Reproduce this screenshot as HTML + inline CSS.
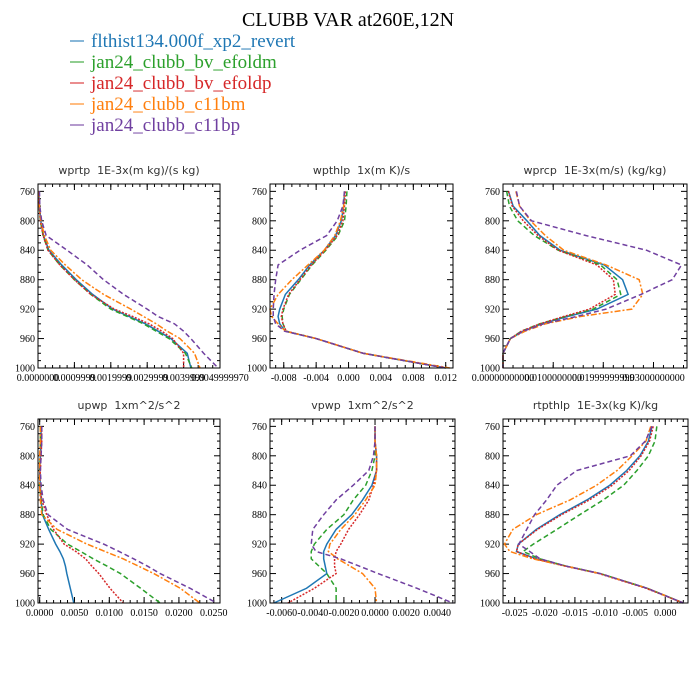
<!DOCTYPE html>
<html><head><meta charset="utf-8"><style>
html,body{margin:0;padding:0;background:#fff;}
svg{display:block;}
.st{font-family:"DejaVu Sans","Liberation Sans",sans-serif;font-size:11px;fill:#333;}
.tk{font-family:"Liberation Serif",serif;font-size:10px;fill:#000;}
.lg{font-family:"Liberation Serif",serif;font-size:19px;}
</style></head><body>
<svg id="chart" width="700" height="700" viewBox="0 0 700 700" xmlns="http://www.w3.org/2000/svg">
<text x="348" y="26" text-anchor="middle" font-family="Liberation Serif, serif" font-size="20">CLUBB VAR at260E,12N</text>
<g id="legend"></g>
<g id="panels"></g>
</svg>
<script>
const seriesNames = ["flthist134.000f_xp2_revert","jan24_clubb_bv_efoldm","jan24_clubb_bv_efoldp","jan24_clubb_c11bm","jan24_clubb_c11bp"];
const levels = [760,780,800,820,840,860,880,900,920,930,940,950,960,980,1000];

// wprtp (fraction of axis span)
const wprtpBlue   = [.005,.008,.015,.03,.06,.13,.21,.3,.41,.5,.59,.66,.73,.82,.84];
const wprtpGreen  = [.005,.007,.013,.028,.055,.12,.2,.29,.4,.49,.58,.65,.72,.81,.845];
const wprtpRed    = [.005,.007,.013,.028,.055,.12,.2,.29,.42,.52,.61,.68,.74,.8,.8];
const wprtpOrange = [.005,.008,.016,.035,.07,.15,.24,.36,.51,.58,.65,.71,.78,.86,.89];
const wprtpPurple = [.008,.01,.02,.045,.16,.27,.36,.47,.6,.66,.75,.8,.84,.91,.99];

// wpthlp
const wpthlpBlue   = [-.0005,-.0006,-.0009,-.0016,-.003,-.0048,-.0062,-.0078,-.0085,-.0087,-.0085,-.0078,-.004,.0018,.012];
const wpthlpGreen  = [-.0002,-.0003,-.0005,-.0013,-.0028,-.0045,-.0059,-.0073,-.008,-.0082,-.0081,-.0077,-.004,.0018,.012];
const wpthlpRed    = [-.0004,-.0005,-.0007,-.0014,-.0029,-.0046,-.006,-.0074,-.0081,-.0083,-.0081,-.0077,-.004,.0018,.012];
const wpthlpOrange = [-.0005,-.0006,-.001,-.0017,-.003,-.005,-.007,-.0087,-.0097,-.0095,-.0087,-.0078,-.004,.0018,.0125];
const wpthlpPurple = [-.0005,-.0007,-.0014,-.0027,-.006,-.0087,-.009,-.0092,-.0093,-.0093,-.009,-.0079,-.004,.0018,.012];

// wprcp (fraction of axis span)
const wprcpBlue   = [.03,.055,.13,.2,.31,.55,.65,.68,.51,.35,.21,.11,.04,0,0];
const wprcpGreen  = [.02,.035,.08,.17,.3,.53,.62,.64,.49,.34,.2,.1,.04,0,0];
const wprcpRed    = [.03,.05,.11,.19,.3,.51,.6,.61,.47,.33,.2,.1,.04,0,0];
const wprcpOrange = [.07,.09,.15,.23,.33,.56,.74,.76,.7,.42,.23,.12,.04,0,0];
const wprcpPurple = [.073,.09,.155,.45,.78,.97,.92,.75,.56,.4,.22,.11,.04,0,0];

// upwp
const upwpBlue   = [.0002,.0002,.0001,0,.0001,.0002,.0004,.0013,.0023,.0029,.0034,.0037,.0039,.0044,.0049];
const upwpGreen  = [.0001,.0001,.0001,0,0,.0002,.0005,.0016,.004,.0059,.0077,.0097,.0116,.0145,.0173];
const upwpRed    = [.0003,.0003,.0002,.0001,0,.0003,.001,.002,.0035,.0052,.0066,.0075,.0085,.0101,.012];
const upwpOrange = [.0001,.0001,0,0,0,.0001,.0003,.0025,.0068,.0094,.012,.0142,.0164,.0202,.023];
const upwpPurple = [.0003,.0003,.0002,.0001,.0002,.0005,.0012,.004,.0092,.0114,.0135,.0155,.0173,.0216,.0254];

// vpwp
const vpwpBlue   = [0,0,.0001,.0001,-.0002,-.0008,-.0015,-.0025,-.0031,-.0033,-.0033,-.0032,-.0031,-.0044,-.0065];
const vpwpGreen  = [0,0,0,-.0002,-.0006,-.0014,-.002,-.0031,-.0039,-.0041,-.0041,-.0036,-.0031,-.0025,-.0025];
const vpwpRed    = [0,0,.0001,.0001,-.0001,-.0004,-.001,-.0017,-.0022,-.0025,-.0026,-.0026,-.0025,-.0039,-.0056];
const vpwpOrange = [0,0,.0001,.0001,0,-.0006,-.0013,-.0022,-.0029,-.003,-.0024,-.0016,-.0008,0,.0001];
const vpwpPurple = [0,0,-.0001,-.0004,-.0014,-.0025,-.0033,-.004,-.0041,-.0038,-.0022,-.001,.0002,.0027,.005];

// rtpthlp
const rtBlue   = [-.0022,-.0028,-.0042,-.0064,-.0092,-.013,-.0175,-.0214,-.0244,-.0247,-.0214,-.0164,-.0108,-.003,.003];
const rtGreen  = [-.0014,-.0017,-.0028,-.0047,-.0069,-.0103,-.0142,-.018,-.0219,-.0236,-.0208,-.0164,-.0108,-.003,.003];
const rtRed    = [-.002,-.0026,-.004,-.006,-.0088,-.0126,-.0172,-.0212,-.0244,-.0247,-.0216,-.0166,-.011,-.0032,.003];
const rtOrange = [-.0024,-.0032,-.0055,-.008,-.0114,-.0158,-.0214,-.0253,-.0267,-.0258,-.022,-.0164,-.0108,-.003,.003];
const rtPurple = [-.0022,-.0033,-.0058,-.0147,-.018,-.0197,-.0217,-.023,-.0243,-.0225,-.0208,-.0164,-.0108,-.003,.003];

const yTicks = [760,800,840,880,920,960,1000];
const wpthlpTicks = [-0.008,-0.004,0,0.004,0.008,0.012];
const wpthlpLabels = ["-0.008","-0.004","0.000","0.004","0.008","0.012"];
const upwpTicks = [0,0.005,0.01,0.015,0.02,0.025];
const upwpLabels = ["0.0000","0.0050","0.0100","0.0150","0.0200","0.0250"];
const vpwpTicks = [-0.006,-0.004,-0.002,0,0.002,0.004];
const vpwpLabels = ["-0.0060","-0.0040","-0.0020","0.0000","0.0020","0.0040"];
const rtTicks = [-0.025,-0.02,-0.015,-0.01,-0.005,0];
const rtLabels = ["-0.025","-0.020","-0.015","-0.010","-0.005","0.000"];
const wprtpTicks = [0,0.2,0.4,0.6,0.8,1.0];
const wprtpLabels = ["0.0000000","0.0009999","0.0019999","0.0029999","0.0039999","0.0049999970"];
const wprcpTicks = [0,0.273,0.545,0.818];
const wprcpLabels = ["0.00000000000","0.0100000000","0.01999999999","0.03000000000"];

const colors = ["#1f77b4","#2ca02c","#d62728","#ff7f0e","#7040a0"];
const dashes = ["", "5,3", "2,1.5", "6,2,2,2", "5,3"];
const NS = "http://www.w3.org/2000/svg";
function mk(tag, attrs, parent){const e=document.createElementNS(NS,tag);for(const k in attrs)e.setAttribute(k,attrs[k]);parent.appendChild(e);return e;}

// legend
const lg = document.getElementById('legend');
const legY = [47,68,89,110,131];
seriesNames.forEach((n,i)=>{
  const g = mk('g',{},lg);
  
  
  mk('line',{x1:70,x2:84,y1:legY[i]-6,y2:legY[i]-6,stroke:colors[i],'stroke-width':1.5,opacity:0.7},g);
  const t = mk('text',{x:91,y:legY[i],class:'lg',fill:colors[i]},g);
  t.textContent = n;
});

const panels = [
 {name:'wprtp',title:'wprtp  1E-3x(m kg)/(s kg)',x0:38,x1:220,y0:184,y1:368,dom:[0,1],data:[wprtpBlue,wprtpGreen,wprtpRed,wprtpOrange,wprtpPurple],ticks:wprtpTicks,labels:wprtpLabels,minor:0.04},
 {name:'wpthlp',title:'wpthlp  1x(m K)/s',x0:270,x1:453,y0:184,y1:368,dom:[-0.0097,0.0129],data:[wpthlpBlue,wpthlpGreen,wpthlpRed,wpthlpOrange,wpthlpPurple],ticks:wpthlpTicks,labels:wpthlpLabels,minor:0.001},
 {name:'wprcp',title:'wprcp  1E-3x(m/s) (kg/kg)',x0:503,x1:687,y0:184,y1:368,dom:[0,1],data:[wprcpBlue,wprcpGreen,wprcpRed,wprcpOrange,wprcpPurple],ticks:wprcpTicks,labels:wprcpLabels,minor:0.0545},
 {name:'upwp',title:'upwp  1xm^2/s^2',x0:38,x1:220,y0:419,y1:603,dom:[-0.00024,0.0259],data:[upwpBlue,upwpGreen,upwpRed,upwpOrange,upwpPurple],ticks:upwpTicks,labels:upwpLabels,minor:0.001},
 {name:'vpwp',title:'vpwp  1xm^2/s^2',x0:270,x1:455,y0:419,y1:603,dom:[-0.00675,0.00514],data:[vpwpBlue,vpwpGreen,vpwpRed,vpwpOrange,vpwpPurple],ticks:vpwpTicks,labels:vpwpLabels,minor:0.0005},
 {name:'rtpthlp',title:'rtpthlp  1E-3x(kg K)/kg',x0:503,x1:688,y0:419,y1:603,dom:[-0.02694,0.00378],data:[rtBlue,rtGreen,rtRed,rtOrange,rtPurple],ticks:rtTicks,labels:rtLabels,minor:0.001}
];
const yDom=[750,1000];
const root = document.getElementById('panels');
panels.forEach(p=>{
  const g = mk('g',{},root);
  
  
  const X = v => p.x0 + (v-p.dom[0])/(p.dom[1]-p.dom[0])*(p.x1-p.x0);
  const Y = v => p.y0 + (v-yDom[0])/(yDom[1]-yDom[0])*(p.y1-p.y0);
  const t = mk('text',{x:(p.x0+p.x1)/2,y:p.y0-10,'text-anchor':'middle',class:'st'},g);
  t.textContent = p.title.replace(/  /g,'\u00a0\u00a0');
  
  
  // y ticks
  for(let v=750; v<=1000; v+=10){
    const major = yTicks.includes(v);
    const L = major?6:3;
    mk('line',{x1:p.x0,x2:p.x0+L,y1:Y(v),y2:Y(v),stroke:'#000','stroke-width':1},g);
    mk('line',{x1:p.x1,x2:p.x1-L,y1:Y(v),y2:Y(v),stroke:'#000','stroke-width':1},g);
  }
  yTicks.forEach(v=>{
    const tt = mk('text',{x:p.x0-3,y:Y(v)+3.5,'text-anchor':'end',class:'tk'},g);
    tt.textContent = v;
    
    
  });
  // x ticks
  const start = Math.ceil(p.dom[0]/p.minor - 1e-9);
  for(let k=start; k*p.minor<=p.dom[1]+1e-12; k++){
    const v=k*p.minor;
    mk('line',{x1:X(v),x2:X(v),y1:p.y1,y2:p.y1-3,stroke:'#000','stroke-width':1},g);
    mk('line',{x1:X(v),x2:X(v),y1:p.y0,y2:p.y0+3,stroke:'#000','stroke-width':1},g);
  }
  p.ticks.forEach((v,i)=>{
    mk('line',{x1:X(v),x2:X(v),y1:p.y1,y2:p.y1-6,stroke:'#000','stroke-width':1},g);
    mk('line',{x1:X(v),x2:X(v),y1:p.y0,y2:p.y0+6,stroke:'#000','stroke-width':1},g);
    const tt = mk('text',{x:X(v),y:p.y1+13,'text-anchor':'middle',class:'tk'},g);
    tt.textContent = p.labels[i];
    
    
  });
  // series
  p.data.forEach((arr,si)=>{
    const d = arr.map((v,i)=>(i?'L':'M')+X(v).toFixed(2)+','+Y(levels[i]).toFixed(2)).join(' ');
    const path = mk('path',{d:d,fill:'none',stroke:colors[si],'stroke-width':1.5},g);
    if(dashes[si]) path.setAttribute('stroke-dasharray',dashes[si]);
    
    
  });
  const box = mk('rect',{x:p.x0,y:p.y0,width:p.x1-p.x0,height:p.y1-p.y0,fill:'none',stroke:'#000','stroke-width':1},g);
  
  
});
</script>
</body></html>
